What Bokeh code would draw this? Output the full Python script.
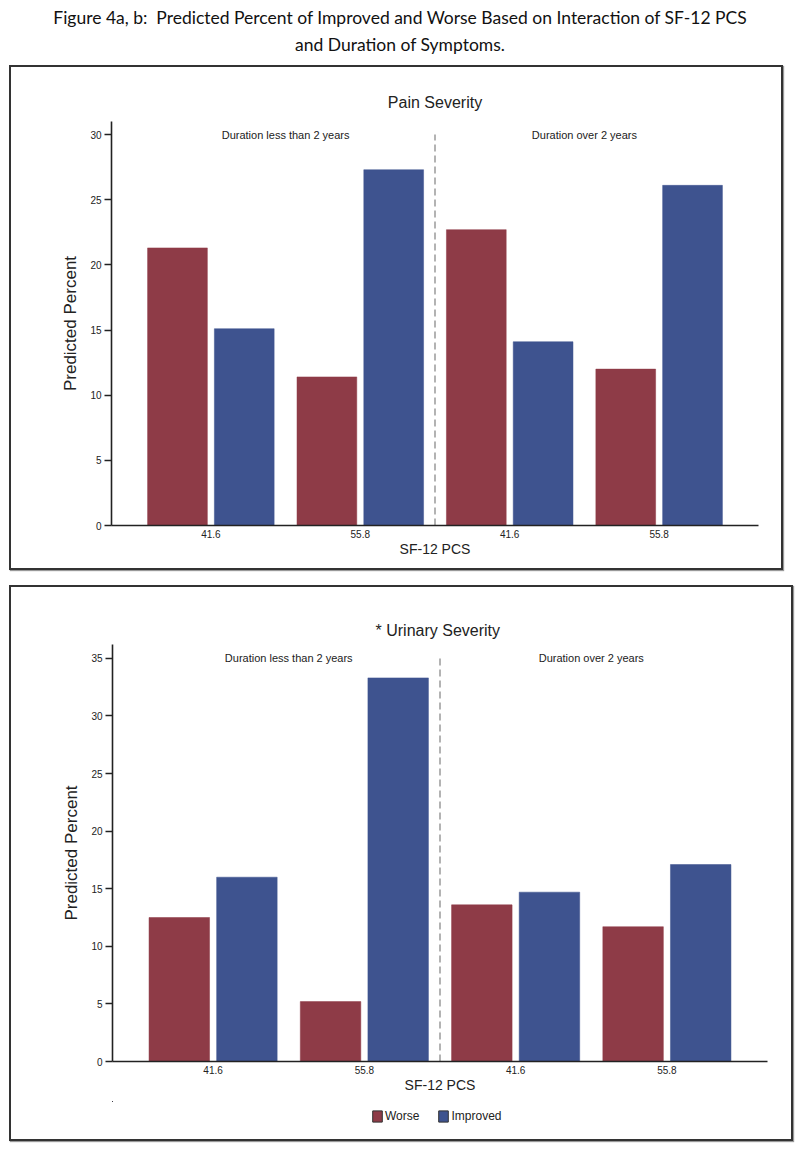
from bokeh.plotting import figure
from bokeh.models import (ColumnDataSource, FixedTicker, Range1d, Legend, LegendItem, Div)
from bokeh.layouts import column
from bokeh.transform import dodge
from bokeh.embed import file_html
from bokeh.resources import INLINE
from bokeh.core.properties import value

# ---------------- data ----------------
pcs_labels = ["41.6", "55.8", "41.6", "55.8"]
duration_labels = ["Duration less than 2 years", "Duration over 2 years"]
series_names = ["Worse", "Improved"]
pain_worse = [21.3, 11.4, 22.7, 12.0]
pain_improved = [15.1, 27.3, 14.1, 26.1]
urinary_worse = [12.5, 5.2, 13.6, 11.7]
urinary_improved = [16.0, 33.3, 14.7, 17.1]

WORSE_COLOR = "#8e3b47"
IMPROVED_COLOR = "#3e538f"
AXIS_COLOR = "#222222"
FONT = "Liberation Sans"


def make_panel(title, worse, improved, y_max, y_ticks, label_y,
               width, height, mb_left, mb_right, mb_top, mb_bottom, title_standoff):
    idx = list(range(len(pcs_labels)))
    src = ColumnDataSource(dict(x=idx, worse=worse, improved=improved))
    p = figure(width=width, height=height, output_backend="svg", toolbar_location=None,
               x_range=Range1d(-0.665, len(idx) - 1 + 0.665), y_range=Range1d(0, y_max),
               min_border_left=mb_left, min_border_right=mb_right,
               min_border_top=mb_top, min_border_bottom=mb_bottom,
               title=title)
    p.title.text_font = FONT
    p.title.text_font_size = "16px"
    p.title.text_font_style = "normal"
    p.title.text_color = AXIS_COLOR
    p.title.align = "center"
    p.title.standoff = title_standoff
    p.outline_line_color = None
    p.grid.visible = False
    p.background_fill_color = "white"
    p.border_fill_color = "white"

    p.vbar(x=dodge("x", -0.2235, range=p.x_range), top="worse", width=0.40, source=src,
           fill_color=WORSE_COLOR, line_color=WORSE_COLOR, line_width=0.5)
    p.vbar(x=dodge("x", 0.2235, range=p.x_range), top="improved", width=0.40, source=src,
           fill_color=IMPROVED_COLOR, line_color=IMPROVED_COLOR, line_width=0.5)

    # divider between the two duration groups
    mid = (len(idx) - 1) / 2.0
    p.segment(x0=[mid], y0=[0], x1=[mid], y1=[label_y], line_color="#8a8a8a",
              line_dash="7 4", line_width=1.3)

    # duration labels
    lab_src = ColumnDataSource(dict(x=[0.5, 2.5], y=[label_y, label_y], t=duration_labels))
    p.text(x="x", y="y", text="t", source=lab_src, text_align="center",
           text_baseline="middle", text_font=value(FONT), text_font_size="11px",
           text_color=AXIS_COLOR)

    # axes
    xa = p.xaxis[0]
    xa.ticker = FixedTicker(ticks=idx)
    xa.major_label_overrides = {i: lab for i, lab in enumerate(pcs_labels)}
    xa.axis_label = "SF-12 PCS"
    xa.axis_label_text_font = FONT
    xa.axis_label_text_font_size = "14px"
    xa.axis_label_text_font_style = "normal"
    xa.axis_label_text_color = AXIS_COLOR
    xa.axis_label_standoff = 0
    xa.major_label_text_font = FONT
    xa.major_label_text_font_size = "10px"
    xa.major_label_text_color = AXIS_COLOR
    xa.major_label_standoff = 4
    xa.major_tick_line_color = None
    xa.major_tick_out = 0
    xa.major_tick_in = 0
    xa.minor_tick_line_color = None
    xa.axis_line_color = AXIS_COLOR
    xa.axis_line_width = 1.6

    ya = p.yaxis[0]
    ya.ticker = FixedTicker(ticks=y_ticks)
    ya.axis_label = "Predicted Percent"
    ya.axis_label_text_font = FONT
    ya.axis_label_text_font_size = "17px"
    ya.axis_label_text_font_style = "normal"
    ya.axis_label_text_color = AXIS_COLOR
    ya.axis_label_standoff = 7
    ya.major_label_text_font = FONT
    ya.major_label_text_font_size = "10px"
    ya.major_label_text_color = AXIS_COLOR
    ya.major_label_standoff = 3
    ya.major_tick_out = 7
    ya.major_tick_in = 0
    ya.major_tick_line_color = AXIS_COLOR
    ya.major_tick_line_width = 1.4
    ya.minor_tick_line_color = None
    ya.axis_line_color = AXIS_COLOR
    ya.axis_line_width = 1.6
    return p


def make_legend(width, height, worse, improved):
    # strip holding the shared legend; its renderers use the same values but
    # the strip's ranges lie away from them, so only the legend swatches show
    idx = list(range(len(pcs_labels)))
    lf = figure(width=width, height=height, output_backend="svg", toolbar_location=None,
                x_range=Range1d(100, 101), y_range=Range1d(-200, -199),
                x_axis_location=None, y_axis_location=None,
                min_border_left=0, min_border_right=0, min_border_top=0, min_border_bottom=0)
    lf.outline_line_color = None
    lf.grid.visible = False
    src = ColumnDataSource(dict(x=idx, worse=worse, improved=improved))
    rw = lf.vbar(x="x", top="worse", width=0.4, source=src,
                 fill_color=WORSE_COLOR, line_color="#333333", line_width=1)
    ri = lf.vbar(x="x", top="improved", width=0.4, source=src,
                 fill_color=IMPROVED_COLOR, line_color="#333333", line_width=1)
    lg = Legend(items=[LegendItem(label=series_names[0], renderers=[rw]),
                       LegendItem(label=series_names[1], renderers=[ri])],
                orientation="horizontal", location=(259, 16),
                glyph_width=12, glyph_height=14, label_text_font=FONT,
                label_text_font_size="12px", label_standoff=2, spacing=18,
                label_text_color=AXIS_COLOR,
                border_line_color=None, background_fill_alpha=0,
                padding=2, margin=0)
    lf.add_layout(lg)
    return lf


title_div = Div(
    text=("<div style='width:784px; margin-top:-4px; text-align:center; "
          "font-family:Lato, \"Open Sans\", sans-serif;"
          " font-size:17.5px; line-height:27px; color:#111;'>"
          "Figure 4a, b:&nbsp; Predicted Percent of Improved and Worse Based on Interaction of SF-12 PCS"
          "<br>and Duration of Symptoms.</div>"),
    width=784, height=57, margin=(0, 0, 0, 0))

BOX_STYLE = {"border": "2px solid #333333", "box-shadow": "1px 1px 1px #999999"}

p1 = make_panel("Pain Severity", pain_worse, pain_improved, 31.0, [0, 5, 10, 15, 20, 25, 30], 30,
                770, 501, 100, 23, 54, 43, 21)
box1 = column(p1, styles=BOX_STYLE, margin=(0, 0, 0, 1))

p2 = make_panel("*  Urinary Severity", urinary_worse, urinary_improved, 36.2,
                [0, 5, 10, 15, 20, 25, 30, 35], 35,
                780, 514, 101, 24, 57, 40, 12)
leg = make_legend(780, 38, urinary_worse, urinary_improved)
box2 = column(p2, leg, styles=BOX_STYLE, margin=(15, 0, 0, 1))

layout = column(title_div, box1, box2, margin=(8, 0, 0, 8))

open("out.html", "w").write(file_html(layout, INLINE))
